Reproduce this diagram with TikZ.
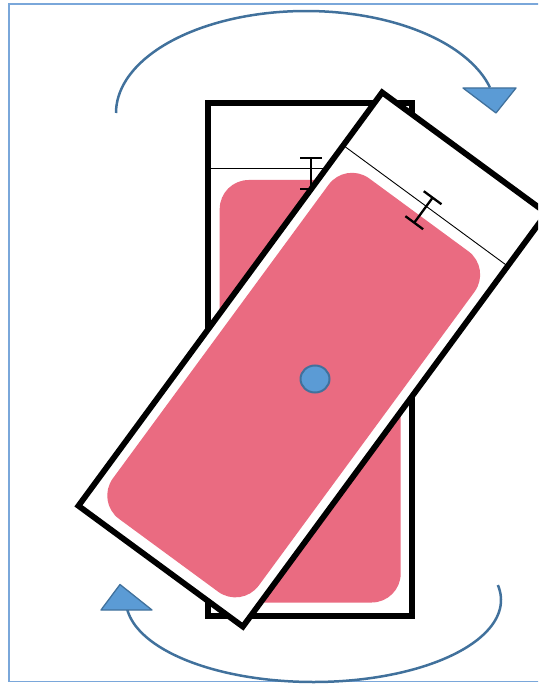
\documentclass[tikz,border=0pt]{standalone}
\definecolor{framec}{HTML}{7AA7DA}
\definecolor{arcc}{HTML}{41719C}
\definecolor{trifill}{HTML}{5B9BD5}
\definecolor{pinkc}{HTML}{EA6B81}
\tikzset{
  boxborder/.style={draw=black, line width=5.8pt, fill=white, line join=miter},
  thinline/.style={draw=black, line width=0.9pt},
  pinkfill/.style={fill=pinkc, rounded corners=29pt},
  ibeam/.style={draw=black, line width=2.3pt},
  arcline/.style={draw=arcc, line width=2.5pt},
  tri/.style={fill=trifill, draw=arcc, line width=1.3pt, line join=round},
  framebox/.style={draw=framec, line width=1.6pt},
  dot/.style={fill=trifill, draw=arcc, line width=2pt}
}
\newcommand\phoneboxdraw{%
  \draw[boxborder] (-102,-256.5) rectangle (102,256.5);
  \draw[thinline] (-102,-190.8) -- (102,-190.8);
  \fill[pinkfill] (-90.5,-179.5) rectangle (90.5,243);
  \draw[ibeam] (1,-201.5) -- (1,-170.5);
  \draw[ibeam] (-10,-201.5) -- (12,-201.5);
  \draw[ibeam] (-10,-170.5) -- (12,-170.5);
}
\begin{document}
\begin{tikzpicture}[x=1pt,y=-1pt]
  \useasboundingbox (0,0) rectangle (538,684);
  \clip (0,0) rectangle (538,684);
  % frame
  \draw[framebox] (9,4) rectangle (560,681.5);
  % arcs
  \draw[arcline] plot[domain=180:345.5, samples=90, smooth] ({306+190*cos(\x)},{113+102*sin(\x)});
  \draw[arcline] plot[domain=-10.5:174, samples=90, smooth] ({313.5+187.5*cos(\x)},{600+82*sin(\x)});
  % arrow heads
  \coordinate (ta) at (463,88);
  \coordinate (tb) at (516,88);
  \coordinate (tc) at (496,113);
  \draw[tri] (ta) -- (tb) -- (tc) -- cycle;
  \coordinate (ba) at (101,610);
  \coordinate (bb) at (152,610);
  \coordinate (bc) at (120,584.5);
  \draw[tri] (ba) -- (bb) -- (bc) -- cycle;
  % upright box
  \begin{scope}[shift={(310.2,359.5)}]
    \phoneboxdraw
  \end{scope}
  % rotated box
  \begin{scope}[shift={(312.5,359.5)}, rotate=-36.3]
    \phoneboxdraw
  \end{scope}
  % centre dot
  \draw[dot] (315,379) ellipse [x radius=14.5, y radius=13.5];
\end{tikzpicture}
\end{document}
